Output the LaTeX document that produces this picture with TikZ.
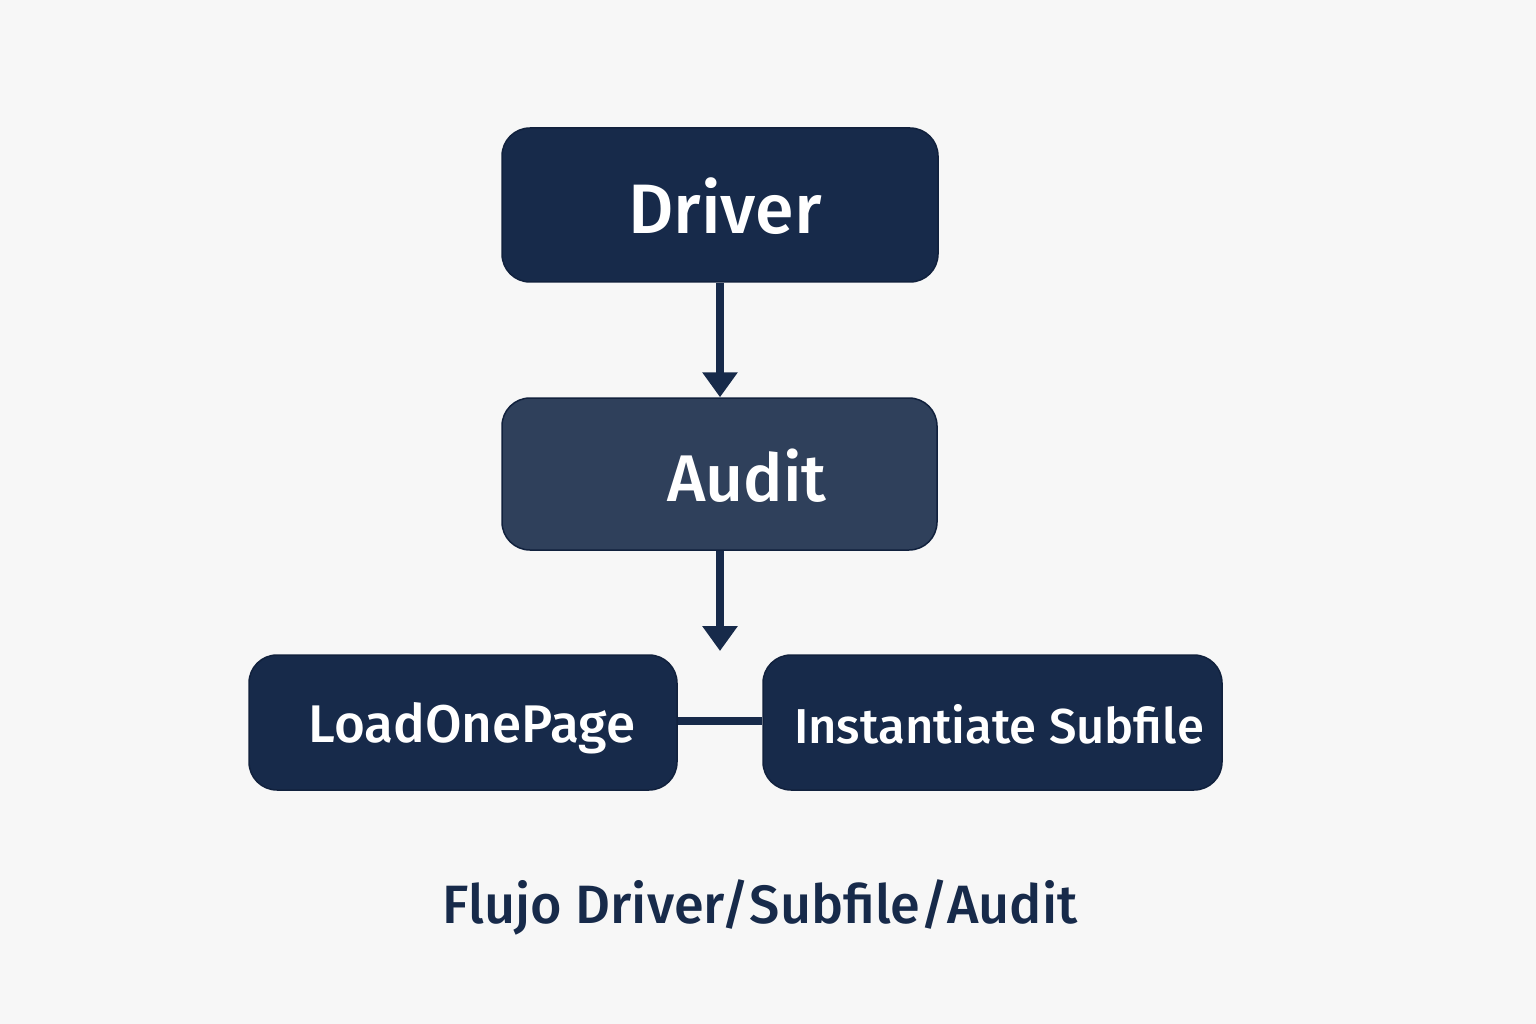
\documentclass[tikz,border=0pt]{standalone}
\usepackage{fontspec}
\setmainfont{Fira Sans}
\newfontfamily\medfont{Fira Sans}[UprightFont={* Medium}]
\usetikzlibrary{arrows.meta}
\definecolor{navy}{HTML}{172A4A}
\definecolor{navyline}{HTML}{11213D}
\definecolor{slate}{HTML}{2F405B}
\definecolor{bg}{HTML}{F7F7F7}
\tikzset{
  box/.style={draw=navyline, line width=1.5pt, rounded corners=28pt, text=white, inner sep=0pt},
  conn/.style={draw=navy, line width=7.5pt},
  arr/.style={conn, -{Triangle[length=25pt,width=34pt]}},
}
\begin{document}
\begin{tikzpicture}[x=1pt,y=-1pt]
\fill[bg] (0,0) rectangle (1536,1024);
\useasboundingbox (0,0) rectangle (1536,1024);
\node[box, fill=navy, minimum width=436pt, minimum height=154pt] (driver) at (720,205) {};
\node[text=white, font=\medfont\fontsize{70}{80}\selectfont] (drivert) at (725,206) {Driver};
\node[box, fill=slate, minimum width=435pt, minimum height=152pt] (audit) at (719.5,474) {};
\node[text=white, font=\medfont\fontsize{66}{76}\selectfont] (auditt) at (747,476) {Audit};
\node[box, fill=navy, minimum width=428pt, minimum height=135pt] (load) at (463,722.5) {};
\node[text=white, font=\medfont\fontsize{53}{60}\selectfont] (loadt) at (472,728) {LoadOnePage};
\node[box, fill=navy, minimum width=459pt, minimum height=135pt] (inst) at (992.5,722.5) {};
\node[text=white, font=\medfont\fontsize{49}{60}\selectfont] (instt) at (999,724) {Instantiate Subfile};
\coordinate (atip) at (720,651);
\draw[arr] (driver.south -| 720,0) -- (audit.north -| 720,0);
\draw[arr] (audit.south -| 720,0) -- (atip);
\draw[conn] (load.east |- 0,721) -- (inst.west |- 0,721);
\node[text=navy, font=\medfont\fontsize{54}{60}\selectfont] (cap) at (760,907) {Flujo Driver/Subfile/Audit};
\end{tikzpicture}
\end{document}
